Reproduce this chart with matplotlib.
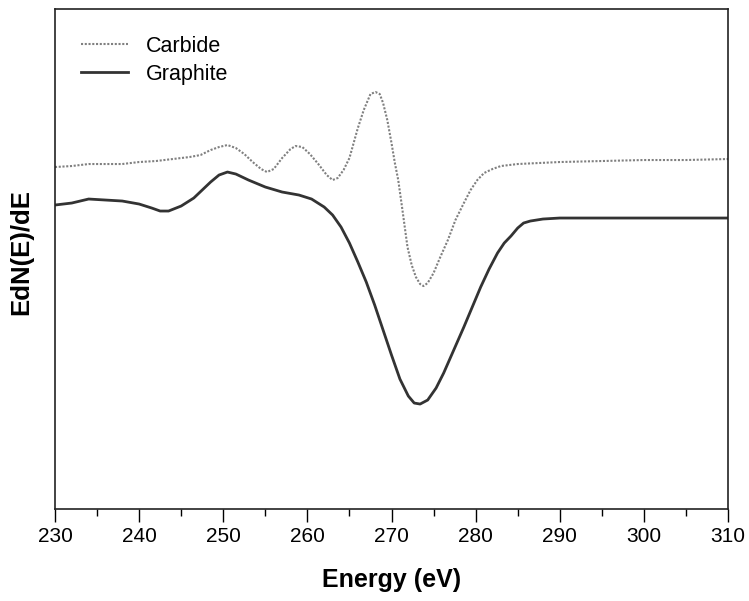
import matplotlib
matplotlib.use("Agg")
import matplotlib.pyplot as plt
from matplotlib.ticker import MultipleLocator

plt.rcParams["font.family"] = ["Liberation Sans", "DejaVu Sans"]

# Auger C KLL spectra, EdN(E)/dE in arbitrary units
carbide_energy = [230, 232, 234, 236, 238, 240, 242, 244, 246, 247.3,
                  248.5, 249.5, 250.5, 251.5, 252.5, 253.5, 254.5, 255.2, 256, 257,
                  258, 258.6, 259.4, 260.3, 261.3, 262.3, 263, 263.6, 264.3, 265,
                  265.5, 266, 266.7, 267.5, 268.1, 268.6, 269, 269.5, 270, 270.4,
                  270.8, 271.3, 271.9, 272.4, 272.9, 273.4, 273.8, 274.3, 275, 275.8,
                  276.7, 277.6, 278.6, 279.4, 280.2, 281, 282, 283, 285, 290,
                  295, 300, 305, 310]
carbide_signal = [3.42, 3.43, 3.45, 3.45, 3.45, 3.47, 3.48, 3.50, 3.52, 3.54,
                  3.59, 3.62, 3.64, 3.61, 3.55, 3.47, 3.40, 3.37, 3.40, 3.51,
                  3.60, 3.63, 3.62, 3.55, 3.45, 3.34, 3.29, 3.31, 3.39, 3.51,
                  3.66, 3.81, 3.99, 4.15, 4.17, 4.15, 4.06, 3.89, 3.66, 3.46,
                  3.29, 2.99, 2.62, 2.44, 2.32, 2.25, 2.23, 2.26, 2.36, 2.52,
                  2.69, 2.89, 3.06, 3.19, 3.29, 3.36, 3.40, 3.43, 3.45, 3.47,
                  3.48, 3.49, 3.49, 3.50]

graphite_energy = [230, 232, 234, 236, 238, 240, 241.5, 242.5, 243.5, 245,
                   246.5, 247.5, 248.5, 249.5, 250.5, 251.5, 253, 255, 257, 259,
                   260.5, 262, 263, 264, 265, 266, 267, 268, 269, 270,
                   271, 272, 272.7, 273.4, 274.3, 275.3, 276.2, 277.4, 278.6, 279.6,
                   280.6, 281.6, 282.6, 283.4, 284.2, 285, 285.7, 286.5, 288, 290,
                   295, 300, 305, 310]
graphite_signal = [3.04, 3.06, 3.10, 3.09, 3.08, 3.05, 3.01, 2.98, 2.98, 3.03,
                   3.11, 3.19, 3.27, 3.34, 3.37, 3.35, 3.29, 3.22, 3.17, 3.14,
                   3.10, 3.02, 2.94, 2.82, 2.66, 2.47, 2.27, 2.04, 1.79, 1.54,
                   1.30, 1.13, 1.06, 1.05, 1.09, 1.21, 1.36, 1.59, 1.82, 2.02,
                   2.22, 2.40, 2.56, 2.66, 2.73, 2.81, 2.86, 2.88, 2.90, 2.91,
                   2.91, 2.91, 2.91, 2.91]

fig = plt.figure(figsize=(7.49, 6.01), dpi=100)
ax = fig.add_axes([0.0734, 0.153, 0.8986, 0.832])

ax.plot(carbide_energy, carbide_signal, color="#808080", linestyle=(0, (1, 0.8)),
        linewidth=1.5, label="Carbide")
ax.plot(graphite_energy, graphite_signal, color="#333333", linestyle="-",
        linewidth=2.0, label="Graphite")

ax.set_xlim(230, 310)
ax.set_ylim(0, 5.0)
ax.xaxis.set_major_locator(MultipleLocator(10))
ax.xaxis.set_minor_locator(MultipleLocator(5))
ax.tick_params(axis="x", which="major", direction="out", length=9, width=1,
               labelsize=15, pad=4)
ax.tick_params(axis="x", which="minor", direction="out", length=5, width=1)
ax.tick_params(axis="y", left=False, labelleft=False)
for sp in ax.spines.values():
    sp.set_linewidth(1.2)
    sp.set_color("#222222")

ax.set_xlabel("Energy (eV)", fontsize=18, fontweight="bold", labelpad=16)
ax.set_ylabel("EdN(E)/dE", fontsize=18.5, fontweight="bold")
ax.yaxis.set_label_coords(-0.033, 0.514)

ax.legend(loc="upper left", bbox_to_anchor=(0.01, 0.985), frameon=False,
          fontsize=15.5, handlelength=2.2, handletextpad=0.8, labelspacing=0.33)

fig.savefig("out.png", dpi=100)
